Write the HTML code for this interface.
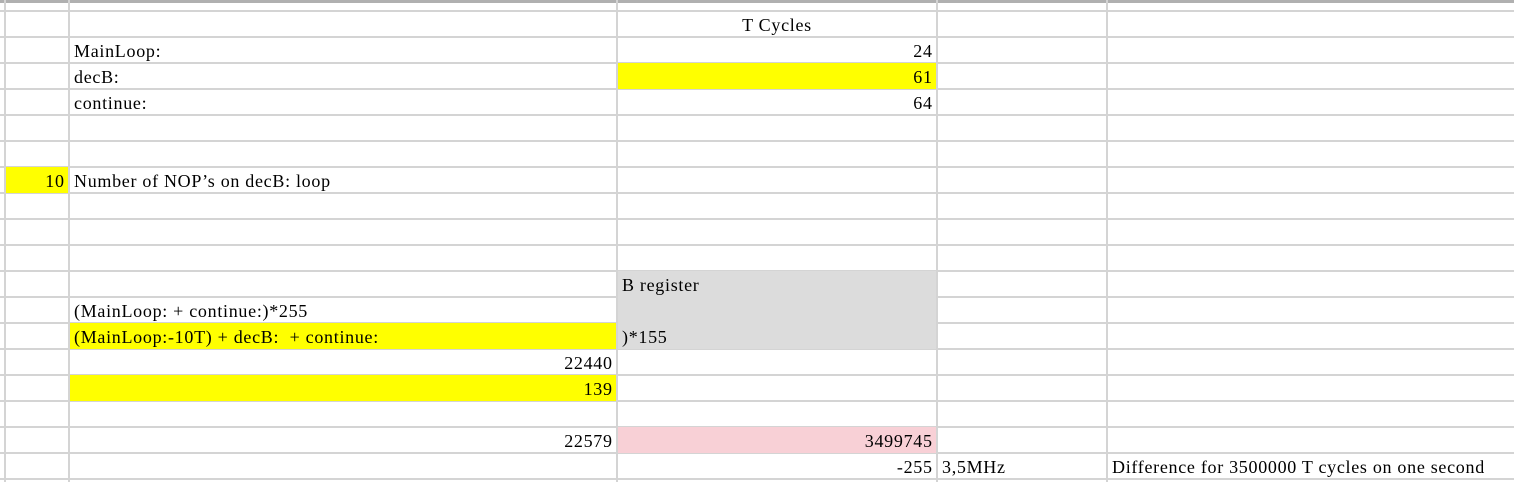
<!DOCTYPE html>
<html><head><meta charset="utf-8"><style>
html,body{margin:0;padding:0;background:#fff;}
#s{position:relative;width:1514px;height:482px;overflow:hidden;font-family:"Liberation Serif",serif;font-size:18px;letter-spacing:0.7px;color:#000;}
.h{position:absolute;left:0;width:1514px;height:2px;background:#d4d4d4;}
.v{position:absolute;top:0;width:2px;height:482px;background:#d4d4d4;}
.c{position:absolute;height:24px;line-height:24px;padding-top:1px;box-sizing:content-box;white-space:nowrap;overflow:visible;}
.r{text-align:right;}
.r span{margin-right:-0.7px;}
.l{text-align:left;}
.m{text-align:center;}
</style></head><body>
<div id="s">
<div style="position:absolute;left:0;top:0;width:1514px;height:3px;background:#b0b0b0"></div>
<div class="h" style="top:10px"></div>
<div class="h" style="top:36px"></div>
<div class="h" style="top:62px"></div>
<div class="h" style="top:88px"></div>
<div class="h" style="top:114px"></div>
<div class="h" style="top:140px"></div>
<div class="h" style="top:166px"></div>
<div class="h" style="top:192px"></div>
<div class="h" style="top:218px"></div>
<div class="h" style="top:244px"></div>
<div class="h" style="top:270px"></div>
<div class="h" style="top:296px"></div>
<div class="h" style="top:322px"></div>
<div class="h" style="top:348px"></div>
<div class="h" style="top:374px"></div>
<div class="h" style="top:400px"></div>
<div class="h" style="top:426px"></div>
<div class="h" style="top:452px"></div>
<div class="h" style="top:478px"></div>
<div class="v" style="left:4px"></div>
<div class="v" style="left:68px"></div>
<div class="v" style="left:616px"></div>
<div class="v" style="left:936px"></div>
<div class="v" style="left:1106px"></div>

<div style="position:absolute;left:618px;top:63px;width:318px;height:26px;background:#ffff00"></div>
<div style="position:absolute;left:6px;top:167px;width:62px;height:26px;background:#ffff00"></div>
<div style="position:absolute;left:618px;top:271px;width:318px;height:78px;background:#dcdcdc"></div>
<div style="position:absolute;left:70px;top:323px;width:546px;height:26px;background:#ffff00"></div>
<div style="position:absolute;left:70px;top:375px;width:546px;height:26px;background:#ffff00"></div>
<div style="position:absolute;left:618px;top:427px;width:318px;height:26px;background:#f8d0d6"></div>

<div class="c m" style="left:618px;width:318px;top:12px">T Cycles</div>
<div class="c l" style="left:74px;width:540px;top:38px">MainLoop:</div>
<div class="c r" style="left:618px;width:314px;top:38px"><span>24</span></div>
<div class="c l" style="left:74px;width:540px;top:64px">decB:</div>
<div class="c r" style="left:618px;width:314px;top:64px"><span>61</span></div>
<div class="c l" style="left:74px;width:540px;top:90px">continue:</div>
<div class="c r" style="left:618px;width:314px;top:90px"><span>64</span></div>
<div class="c r" style="left:6px;width:58px;top:168px"><span>10</span></div>
<div class="c l" style="left:74px;width:540px;top:168px">Number of NOP’s on decB: loop</div>
<div class="c l" style="left:622px;width:310px;top:272px">B register</div>
<div class="c l" style="left:74px;width:540px;top:298px">(MainLoop: + continue:)*255</div>
<div class="c l" style="left:74px;width:540px;top:324px">(MainLoop:-10T) + decB:&nbsp; + continue:</div>
<div class="c l" style="left:622px;width:310px;top:324px">)*155</div>
<div class="c r" style="left:70px;width:542px;top:350px"><span>22440</span></div>
<div class="c r" style="left:70px;width:542px;top:376px"><span>139</span></div>
<div class="c r" style="left:70px;width:542px;top:428px"><span>22579</span></div>
<div class="c r" style="left:618px;width:314px;top:428px"><span>3499745</span></div>
<div class="c r" style="left:618px;width:314px;top:454px"><span>-255</span></div>
<div class="c l" style="left:942px;width:160px;top:454px">3,5MHz</div>
<div class="c l" style="left:1112px;width:400px;top:454px">Difference for 3500000 T cycles on one second</div>
</div>
</body></html>
